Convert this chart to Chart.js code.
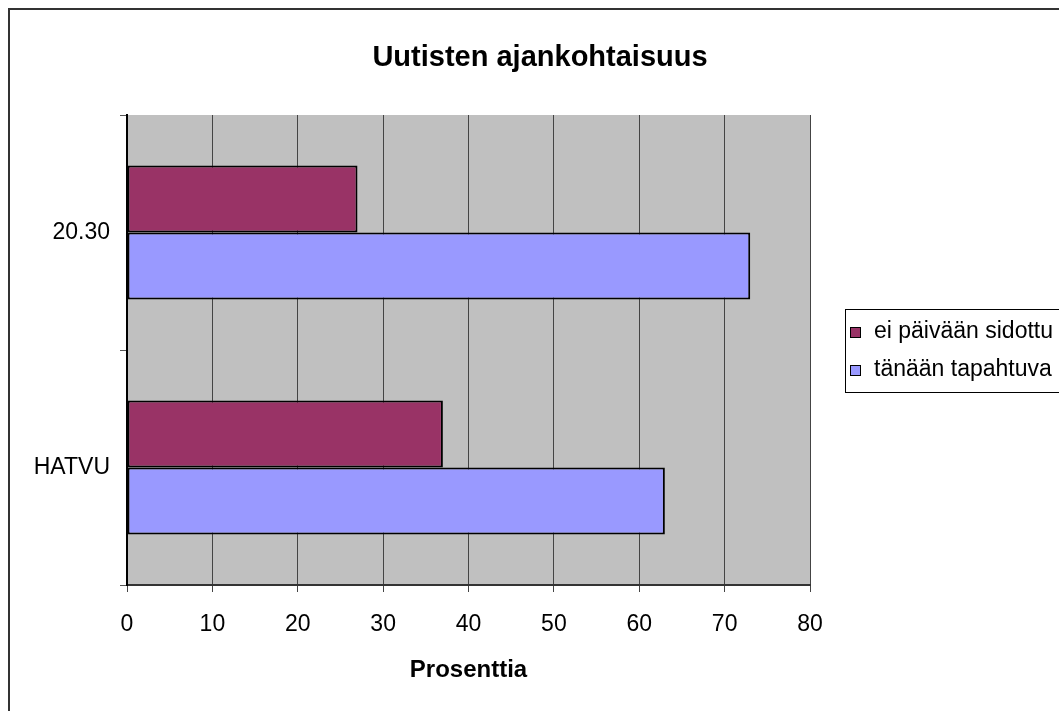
<!DOCTYPE html>
<html lang="fi">
<head>
<meta charset="utf-8">
<title>Uutisten ajankohtaisuus</title>
<script src="https://cdn.jsdelivr.net/npm/chart.js@4/dist/chart.umd.min.js"></script>
<style>
    html, body { margin: 0; padding: 0; background: #fff; }
    #wrap { position: relative; width: 1059px; height: 711px; }
</style>
</head>
<body>
<div id="wrap"><canvas id="chart"></canvas></div>
<script>
const categories = ['20.30', 'HATVU'];
const seriesNames = ['ei päivään sidottu', 'tänään tapahtuva'];
const eiPaivaanSidottu = [27, 37];
const tanaanTapahtuva = [73, 63];
const seriesColors = ['#993366', '#9999FF'];
const chartTitle = 'Uutisten ajankohtaisuus';
const xAxisTitle = 'Prosenttia';

const FONT = "Arial, 'Liberation Sans', sans-serif";

// grey plot area, outer frame, title and boxed legend
const decor = {
    id: 'decor',
    beforeDraw(chart) {
        const { ctx, chartArea: a } = chart;
        ctx.save();
        ctx.fillStyle = '#C0C0C0';
        ctx.fillRect(a.left, a.top, a.right - a.left, a.bottom - a.top);
        ctx.restore();
    },
    afterDraw(chart) {
        const ctx = chart.ctx;
        ctx.save();

        ctx.strokeStyle = '#333';
        ctx.lineWidth = 2;
        ctx.beginPath();
        ctx.moveTo(9, 720);
        ctx.lineTo(9, 9);
        ctx.lineTo(1070, 9);
        ctx.stroke();

        ctx.fillStyle = '#000';
        ctx.font = `bold 29px ${FONT}`;
        ctx.textAlign = 'center';
        ctx.textBaseline = 'alphabetic';
        ctx.fillText(chartTitle, 540, 66);

        ctx.lineWidth = 1;
        ctx.strokeStyle = '#000';
        ctx.strokeRect(845.5, 309.5, 230, 83);

        ctx.font = `23px ${FONT}`;
        ctx.textAlign = 'left';
        ctx.textBaseline = 'middle';
        chart.data.datasets.forEach((ds, i) => {
            const y = 327 + i * 38;
            ctx.fillStyle = ds.backgroundColor;
            ctx.fillRect(850, y, 10, 10);
            ctx.strokeRect(850.5, y + 0.5, 10, 10);
            ctx.fillStyle = '#000';
            ctx.fillText(ds.label, 874, y + 5);
        });
        ctx.restore();
    },
};

new Chart(document.getElementById('chart'), {
    type: 'bar',
    data: {
        labels: categories,
        datasets: [
            { label: seriesNames[0], data: eiPaivaanSidottu, backgroundColor: seriesColors[0] },
            { label: seriesNames[1], data: tanaanTapahtuva, backgroundColor: seriesColors[1] },
        ],
    },
    options: {
        indexAxis: 'y',
        responsive: true,
        maintainAspectRatio: false,
        animation: false,
        layout: { padding: { top: 115, right: 249, left: 0, bottom: 0 } },
        datasets: {
            bar: {
                borderColor: '#000',
                borderWidth: 2,
                borderSkipped: false,
                barPercentage: 1,
                categoryPercentage: 0.57,
            },
        },
        plugins: {
            legend: { display: false },
            title: { display: false },
            tooltip: { enabled: false },
        },
        scales: {
            x: {
                min: 0,
                max: 80,
                afterFit: (s) => { s.height = 126; },
                ticks: { stepSize: 10, color: '#000', padding: 19, font: { family: FONT, size: 23 } },
                grid: { color: '#444', lineWidth: 1, tickLength: 7 },
                border: { color: '#333', width: 2 },
                title: {
                    display: true,
                    text: xAxisTitle,
                    color: '#000',
                    font: { family: FONT, size: 24, weight: 'bold', lineHeight: 1.2 },
                    padding: { top: 0, bottom: 26 },
                },
            },
            y: {
                afterFit: (s) => { s.width = 127; },
                ticks: { color: '#000', padding: 10, font: { family: FONT, size: 23 } },
                grid: { offset: true, drawOnChartArea: false, color: '#555', tickLength: 7 },
                border: { color: '#000', width: 2 },
            },
        },
    },
    plugins: [decor],
});
</script>
</body>
</html>
